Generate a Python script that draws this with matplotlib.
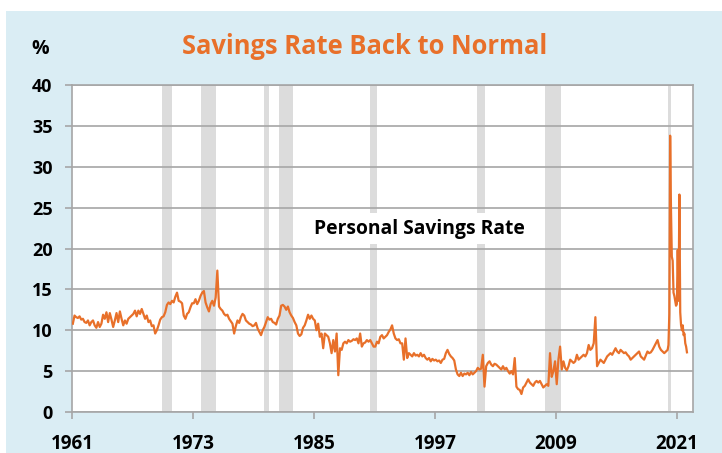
import matplotlib.pyplot as plt
from matplotlib.patches import Rectangle

# Personal savings rate (%), one value every two months (Jan, Mar, May, Jul, Sep, Nov)
rate_1960s = [
    10.8, 11.8, 11.6, 11.5, 11.7, 11.3,   # 1961
    11.4, 11.0, 10.9, 11.2, 10.6, 11.0,   # 1962
    11.2, 10.6, 10.3, 11.0, 10.4, 10.8,   # 1963
    11.9, 11.4, 12.2, 11.0, 12.1, 11.3,   # 1964
    10.4, 11.2, 12.1, 11.0, 12.3, 11.4,   # 1965
    10.6, 11.2, 10.8, 11.4, 11.6, 11.8,   # 1966
    12.0, 12.4, 11.7, 12.4, 12.0, 12.6,   # 1967
    12.0, 11.4, 11.8, 11.0, 11.2, 10.5,   # 1968
    10.6, 9.6, 10.0, 10.6, 11.3, 11.6,    # 1969
]
rate_1970s = [
    11.7, 12.2, 13.1, 13.4, 13.2, 13.6,   # 1970
    13.4, 14.1, 14.6, 13.6, 13.5, 13.3,   # 1971
    11.8, 11.4, 12.0, 12.2, 12.8, 13.3,   # 1972
    13.3, 13.8, 13.2, 13.6, 14.2, 14.6,   # 1973
    14.8, 13.4, 12.8, 12.3, 13.2, 13.6,   # 1974
    13.0, 14.0, 17.3, 12.9, 12.6, 12.4,   # 1975
    12.0, 11.8, 11.9, 11.4, 11.1, 10.8,   # 1976
    9.6, 10.5, 11.2, 10.9, 11.6, 12.0,    # 1977
    11.8, 11.2, 11.0, 10.8, 10.7, 10.5,   # 1978
    10.6, 10.9, 10.2, 9.8, 9.4, 10.0,     # 1979
]
rate_1980s = [
    10.4, 11.0, 11.6, 11.3, 11.4, 11.0,   # 1980
    10.9, 10.7, 11.4, 11.8, 13.0, 13.1,   # 1981
    12.9, 12.5, 12.9, 12.2, 11.8, 11.5,   # 1982
    11.0, 10.6, 9.6, 9.3, 9.5, 10.3,      # 1983
    10.6, 11.2, 11.9, 11.4, 11.8, 11.4,   # 1984
    11.2, 10.0, 10.8, 9.2, 9.6, 7.8,      # 1985
    9.6, 9.4, 9.2, 8.4, 7.2, 8.8,         # 1986
    7.4, 9.6, 4.5, 7.8, 7.6, 8.4,         # 1987
    8.6, 8.4, 8.8, 8.6, 8.7, 8.9,         # 1988
    8.8, 9.0, 8.4, 9.6, 8.0, 8.4,         # 1989
]
rate_1990s = [
    8.5, 8.8, 8.6, 8.8, 8.4, 8.0,         # 1990
    8.0, 8.6, 8.4, 9.2, 9.4, 9.0,         # 1991
    9.2, 9.4, 9.8, 10.1, 10.6, 9.6,       # 1992
    9.0, 8.8, 8.9, 8.4, 8.4, 6.4,         # 1993
    9.0, 6.6, 7.2, 7.0, 6.8, 7.2,         # 1994
    6.9, 7.0, 6.8, 7.2, 6.8, 7.0,         # 1995
    6.6, 6.4, 6.6, 6.2, 6.5, 6.3,         # 1996
    6.4, 6.2, 6.3, 6.0, 6.4, 6.5,         # 1997
    7.2, 7.6, 7.1, 6.8, 6.6, 6.3,         # 1998
    5.2, 4.6, 4.4, 4.8, 4.4, 4.7,         # 1999
]
rate_2000s = [
    4.6, 4.8, 4.5, 4.9, 4.6, 4.8,         # 2000
    5.0, 5.4, 5.2, 5.3, 7.0, 3.1,         # 2001
    5.6, 6.0, 6.2, 5.8, 5.6, 5.9,         # 2002
    5.8, 5.6, 5.4, 5.2, 5.6, 5.2,         # 2003
    5.4, 5.0, 4.7, 5.0, 4.6, 6.6,         # 2004
    3.1, 2.8, 2.7, 2.2, 3.0, 3.2,         # 2005
    3.6, 4.0, 3.6, 3.4, 3.2, 3.6,         # 2006
    3.8, 3.6, 3.8, 3.4, 3.0, 3.2,         # 2007
    3.4, 3.2, 7.2, 4.3, 5.0, 6.2,         # 2008
    3.4, 6.4, 8.0, 5.2, 6.2, 5.4,         # 2009
]
rate_2010s = [
    5.1, 5.6, 6.4, 6.2, 6.0, 6.2,         # 2010
    7.0, 6.4, 6.6, 6.8, 7.0, 6.8,         # 2011
    7.2, 8.2, 7.6, 7.8, 8.4, 11.6,        # 2012
    5.6, 6.0, 6.4, 6.2, 6.0, 6.4,         # 2013
    6.8, 7.0, 7.2, 7.0, 7.4, 7.8,         # 2014
    7.4, 7.2, 7.6, 7.4, 7.2, 7.3,         # 2015
    7.0, 6.8, 6.4, 6.6, 6.8, 7.0,         # 2016
    7.2, 7.4, 6.8, 6.6, 6.4, 6.9,         # 2017
    7.4, 7.2, 7.3, 7.6, 8.0, 8.4,         # 2018
    8.8, 8.0, 7.6, 7.4, 7.2, 7.4,         # 2019
]
# monthly values for the pandemic years
rate_2020_2021 = [
    7.6, 8.2, 12.0, 33.8, 24.8, 19.0, 18.5, 14.6, 14.2, 13.6, 13.0, 13.2,   # 2020
    19.8, 13.6, 26.6, 12.2, 10.6, 10.0, 10.6, 9.4, 9.6, 8.4, 8.0, 7.3,      # 2021
]

recessions = [(1969.92, 1970.92), (1973.83, 1975.25), (1980.0, 1980.58),
              (1981.5, 1982.92), (1990.58, 1991.25), (2001.17, 2001.92),
              (2007.92, 2009.5), (2020.08, 2020.42)]

year_ticks = [1961, 1973, 1985, 1997, 2009, 2021]

# build dates
bimonthly = rate_1960s + rate_1970s + rate_1980s + rate_1990s + rate_2000s + rate_2010s
dates = [1961 + i / 6 + 1 / 12 for i in range(len(bimonthly))]
dates += [2020 + (m + 1) / 12 for m in range(len(rate_2020_2021))]
values = bimonthly + rate_2020_2021

orange = '#E8702A'
grey = '#A6A6A6'
plt.rcParams['font.family'] = ['Open Sans', 'DejaVu Sans']
plt.rcParams['font.weight'] = 'bold'

fig = plt.figure(figsize=(7.22, 4.53), dpi=100)
fig.patches.append(Rectangle((6 / 722, 0), 1, 1 - 11 / 453, transform=fig.transFigure,
                             facecolor='#DAEDF4', edgecolor='none', zorder=-10))

ax = fig.add_axes([72 / 722, 41 / 453, 621 / 722, 327 / 453])
ax.set_facecolor('white')

for start, end in recessions:
    ax.axvspan(start, end, color='#DCDCDC', lw=0, zorder=1)

ax.plot(dates, values, color=orange, lw=1.6, zorder=3)

ax.set_xlim(1961, 2022.6)
ax.set_ylim(0, 40)
ax.set_yticks(range(0, 41, 5))
ax.set_xticks(year_ticks)
ax.grid(axis='y', color=grey, lw=1.2)
for s in ax.spines.values():
    s.set_color(grey)
    s.set_linewidth(1.2)
ax.tick_params(axis='y', labelsize=13, length=5, width=1.2, color=grey, pad=9)
ax.tick_params(axis='x', labelsize=13.5, length=5, width=1.2, color=grey, pad=11)
for lab in ax.get_xticklabels() + ax.get_yticklabels():
    lab.set_fontweight('bold')

ax.text(1995.5, 22.4, 'Personal Savings Rate', fontsize=13.9, fontweight='bold',
        ha='center', va='center', zorder=4,
        bbox=dict(facecolor='white', edgecolor='none', pad=4))

fig.text(365 / 722, 1 - 47 / 453, 'Savings Rate Back to Normal', color=orange,
         fontsize=18.4, fontweight='bold', ha='center', va='center')
fig.text(40 / 722, 1 - 49 / 453, '%', fontsize=14, fontweight='bold',
         ha='center', va='center')

fig.savefig('out.png', dpi=100)
